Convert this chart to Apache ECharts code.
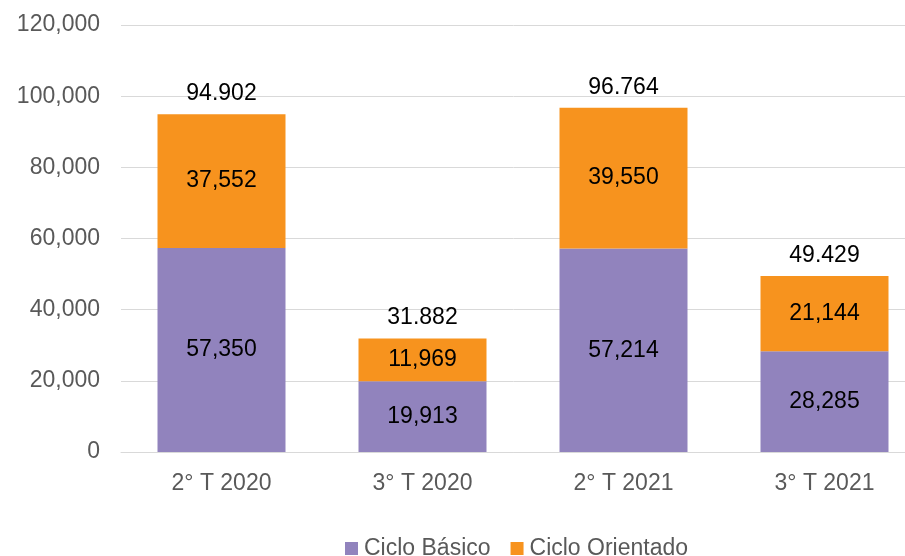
<!DOCTYPE html>
<html>
<head>
<meta charset="utf-8">
<script src="https://cdn.jsdelivr.net/npm/echarts@6/dist/echarts.min.js"></script>
<style>
  html, body { margin: 0; padding: 0; background: #fff; }
  #chart { width: 905px; height: 556px; }
</style>
</head>
<body>
<div id="chart"></div>
<script>
const categories = ['2° T 2020', '3° T 2020', '2° T 2021', '3° T 2021']
const cicloBasico = [57350, 19913, 57214, 28285]
const cicloOrientado = [37552, 11969, 39550, 21144]
const totals = [94902, 31882, 96764, 49429]

const fmtComma = v => v.toLocaleString('en-US')
const fmtDot = v => v.toLocaleString('en-US').replace(/,/g, '.')

const font = 'Liberation Sans, Arial, sans-serif'

const chart = echarts.init(document.getElementById('chart'))
chart.setOption({
  animation: false,
  textStyle: { fontFamily: font },
  // plot area runs past the right edge of the picture (cropped original)
  grid: { left: 121, right: -20, top: 25, bottom: 104, outerBoundsMode: 'none', containLabel: false },
  legend: {
    data: ['Ciclo Básico', 'Ciclo Orientado'],
    left: 340,
    top: 532,
    itemWidth: 13,
    itemHeight: 13,
    itemGap: 20,
    icon: 'rect',
    textStyle: { fontSize: 23, color: '#595959', fontFamily: font, padding: [0, 0, 0, 1] },
  },
  xAxis: {
    type: 'category',
    data: categories,
    axisLine: { lineStyle: { color: '#d9d9d9', width: 1 } },
    axisTick: { show: false },
    axisLabel: { fontSize: 23, color: '#595959', margin: 20 },
  },
  yAxis: {
    type: 'value',
    min: 0,
    max: 120000,
    interval: 20000,
    axisLabel: { fontSize: 23, color: '#595959', margin: 21, formatter: v => fmtComma(v) },
    splitLine: { lineStyle: { color: '#d9d9d9', width: 1 } },
  },
  series: [
    {
      name: 'Ciclo Básico',
      type: 'bar',
      stack: 'total',
      barWidth: 128,
      data: cicloBasico,
      itemStyle: { color: '#9183bd' },
      label: { show: true, position: 'inside', fontSize: 23, color: '#000', formatter: p => fmtComma(p.value) },
    },
    {
      name: 'Ciclo Orientado',
      type: 'bar',
      stack: 'total',
      barWidth: 128,
      data: cicloOrientado,
      itemStyle: { color: '#f7931e' },
      label: { show: true, position: 'inside', fontSize: 23, color: '#000', formatter: p => fmtComma(p.value) },
    },
    {
      name: 'Total',
      type: 'bar',
      stack: 'total',
      barWidth: 128,
      data: categories.map(() => 0),
      itemStyle: { color: 'transparent' },
      label: {
        show: true,
        position: 'top',
        distance: 9,
        fontSize: 23,
        color: '#000',
        formatter: p => fmtDot(totals[p.dataIndex]),
      },
    },
  ],
})
</script>
</body>
</html>
